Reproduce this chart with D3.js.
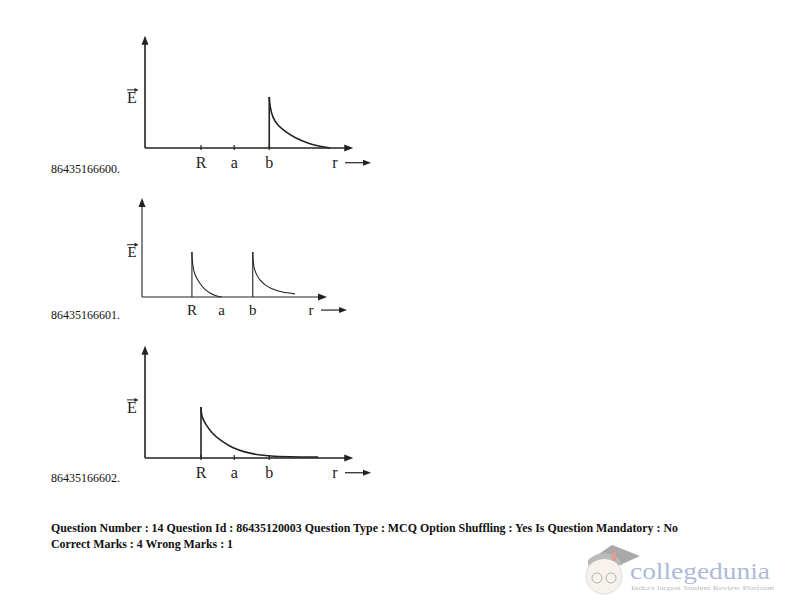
<!DOCTYPE html>
<html>
<head>
<meta charset="utf-8">
<script src="https://cdn.jsdelivr.net/npm/d3@7"></script>
<style>
  body { margin: 0; background: white; }
  svg text { font-family: "Liberation Serif", "DejaVu Serif", serif; }
</style>
</head>
<body>
<div id="chart"></div>
<script>
// tick labels on the r axis and their positions (r units)
var tickNames = ["R", "a", "b"];
var tickPos = [1.6, 2.55, 3.55];

// option ids
var optionIds = ["86435166600.", "86435166601.", "86435166602."];

// curves: E vs r
var curveA = [[3.55, 1.0], [3.58, 0.8], [3.66, 0.6], [3.8, 0.45], [4.0, 0.33], [4.3, 0.2], [4.65, 0.1], [5.0, 0.035], [5.29, 0]];
var curveB1 = [[1.6, 1.0], [1.63, 0.7], [1.7, 0.5], [1.86, 0.3], [2.02, 0.17], [2.18, 0.09], [2.35, 0.035], [2.55, 0]];
var curveB2 = [[3.55, 1.0], [3.58, 0.7], [3.66, 0.52], [3.78, 0.38], [3.95, 0.27], [4.21, 0.17], [4.5, 0.11], [4.9, 0.07]];
var curveC = [[1.6, 1.0], [1.63, 0.82], [1.75, 0.65], [1.95, 0.47], [2.2, 0.33], [2.52, 0.2], [2.85, 0.12], [3.19, 0.07], [3.6, 0.04], [4.14, 0.025], [4.95, 0.02]];

var footLines = [
  "Question Number : 14 Question Id : 86435120003 Question Type : MCQ Option Shuffling : Yes Is Question Mandatory : No",
  "Correct Marks : 4 Wrong Marks : 1"
];

var svg = d3.select("#chart").append("svg")
  .attr("width", 792)
  .attr("height", 612);

// one panel: origin (x0, y0), px per r unit, px per E unit
function drawPanel(p) {
  var g = svg.append("g");
  var x = d3.scaleLinear().domain([0, 1]).range([p.x0, p.x0 + p.ux]);
  var y = d3.scaleLinear().domain([0, 1]).range([p.y0, p.y0 - p.uy]);
  var xEnd = x(p.rMax), yTop = y(p.eMax);

  // axes
  g.append("line").attr("x1", p.x0).attr("y1", p.y0).attr("x2", xEnd - 4).attr("y2", p.y0)
    .attr("stroke", "#222").attr("stroke-width", p.sw);
  g.append("line").attr("x1", p.x0).attr("y1", p.y0).attr("x2", p.x0).attr("y2", yTop + 4)
    .attr("stroke", "#222").attr("stroke-width", p.sw);
  g.append("path").attr("d", `M${xEnd},${p.y0} l-9,-3.5 l0,7 z`).attr("fill", "#222");
  g.append("path").attr("d", `M${p.x0},${yTop} l-3.5,9 l7,0 z`).attr("fill", "#222");

  // ticks
  tickPos.forEach(function (t, i) {
    if (p.ticks) {
      g.append("line").attr("x1", x(t)).attr("x2", x(t))
        .attr("y1", p.y0 - 3).attr("y2", p.y0 + 2)
        .attr("stroke", "#222").attr("stroke-width", 1.2);
    }
    g.append("text").attr("x", x(t)).attr("y", p.y0 + p.labDy)
      .attr("text-anchor", "middle").attr("font-size", p.fs)
      .attr("fill", "#222").text(tickNames[i]);
  });

  // r -->
  g.append("text").attr("x", p.rx).attr("y", p.y0 + p.labDy)
    .attr("text-anchor", "middle").attr("font-size", p.fs).attr("fill", "#222").text("r");
  g.append("line").attr("x1", p.rx + 10).attr("x2", p.rx + 32)
    .attr("y1", p.y0 + p.labDy - p.fs * 0.33).attr("y2", p.y0 + p.labDy - p.fs * 0.33)
    .attr("stroke", "#222").attr("stroke-width", 1.2);
  g.append("path").attr("d", `M${p.rx + 36},${p.y0 + p.labDy - p.fs * 0.33} l-8,-3 l0,6 z`).attr("fill", "#222");

  // E with vector arrow
  g.append("text").attr("x", 132).attr("y", p.ey).attr("text-anchor", "middle")
    .attr("font-size", p.fs).attr("fill", "#222").text("E");
  var ay = p.ey - p.fs * 0.82;
  g.append("line").attr("x1", 127).attr("x2", 137).attr("y1", ay).attr("y2", ay)
    .attr("stroke", "#222").attr("stroke-width", 1);
  g.append("path").attr("d", `M${138.5},${ay} l-4,-2 l0,4 z`).attr("fill", "#222");

  // curves
  var line = d3.line().x(function (d) { return x(d[0]); }).y(function (d) { return y(d[1]); })
    .curve(d3.curveCatmullRom.alpha(0.5));
  p.curves.forEach(function (c) {
    g.append("line").attr("x1", x(c[0][0])).attr("x2", x(c[0][0]))
      .attr("y1", p.y0).attr("y2", y(c[0][1]))
      .attr("stroke", "#222").attr("stroke-width", p.sw);
    g.append("path").attr("d", line(c)).attr("fill", "none")
      .attr("stroke", "#222").attr("stroke-width", p.sw);
  });

  // option id
  svg.append("text").attr("x", 51).attr("y", p.idY).attr("font-size", 12)
    .attr("fill", "#111").text(p.id);
}

drawPanel({ x0: 145, y0: 148, ux: 35, uy: 51, rMax: 5.95, eMax: 2.2, sw: 1.6, ticks: true,
  fs: 16, labDy: 20, rx: 335, ey: 103, curves: [curveA], id: optionIds[0], idY: 173 });
drawPanel({ x0: 142, y0: 297, ux: 31.2, uy: 45, rMax: 5.93, eMax: 2.2, sw: 1.1, ticks: false,
  fs: 15, labDy: 18, rx: 311, ey: 257, curves: [curveB1, curveB2], id: optionIds[1], idY: 319 });
drawPanel({ x0: 145, y0: 458, ux: 35, uy: 51, rMax: 5.95, eMax: 2.2, sw: 1.6, ticks: true,
  fs: 16, labDy: 20, rx: 335, ey: 413, curves: [curveC], id: optionIds[2], idY: 482 });

// footer text
svg.append("text").attr("x", 51).attr("y", 532).attr("font-size", 12.5).attr("font-weight", "bold")
  .attr("fill", "#111").attr("textLength", 627).attr("lengthAdjust", "spacingAndGlyphs").text(footLines[0]);
svg.append("text").attr("x", 51).attr("y", 548).attr("font-size", 12.5).attr("font-weight", "bold")
  .attr("fill", "#111").attr("textLength", 182).attr("lengthAdjust", "spacingAndGlyphs").text(footLines[1]);

// watermark logo
var logo = svg.append("g").attr("opacity", 0.5);
logo.append("path").attr("d", "M590,560 L612,545 L640,556 L618,566 Z").attr("fill", "#555");
logo.append("circle").attr("cx", 604).attr("cy", 576).attr("r", 18).attr("fill", "#f2e6da").attr("stroke", "#bbb");
logo.append("path").attr("d", "M588,566 Q604,552 622,566 L620,560 Q604,546 588,560 Z").attr("fill", "#777");
logo.append("circle").attr("cx", 597).attr("cy", 578).attr("r", 5).attr("fill", "none").attr("stroke", "#666");
logo.append("circle").attr("cx", 611).attr("cy", 578).attr("r", 5).attr("fill", "none").attr("stroke", "#666");
logo.append("rect").attr("x", 612).attr("y", 552).attr("width", 4).attr("height", 9).attr("fill", "#c0392b");
logo.append("text").attr("x", 630).attr("y", 579).attr("font-family", "Open Sans, sans-serif")
  .attr("font-size", 23).attr("fill", "#5c77b0").attr("textLength", 140)
  .attr("lengthAdjust", "spacingAndGlyphs").text("collegedunia");
logo.append("text").attr("x", 631).attr("y", 590).attr("font-family", "Open Sans, sans-serif")
  .attr("font-size", 6.5).attr("fill", "#777").attr("textLength", 143)
  .attr("lengthAdjust", "spacingAndGlyphs").text("India's largest Student Review Platform");
</script>
</body>
</html>
